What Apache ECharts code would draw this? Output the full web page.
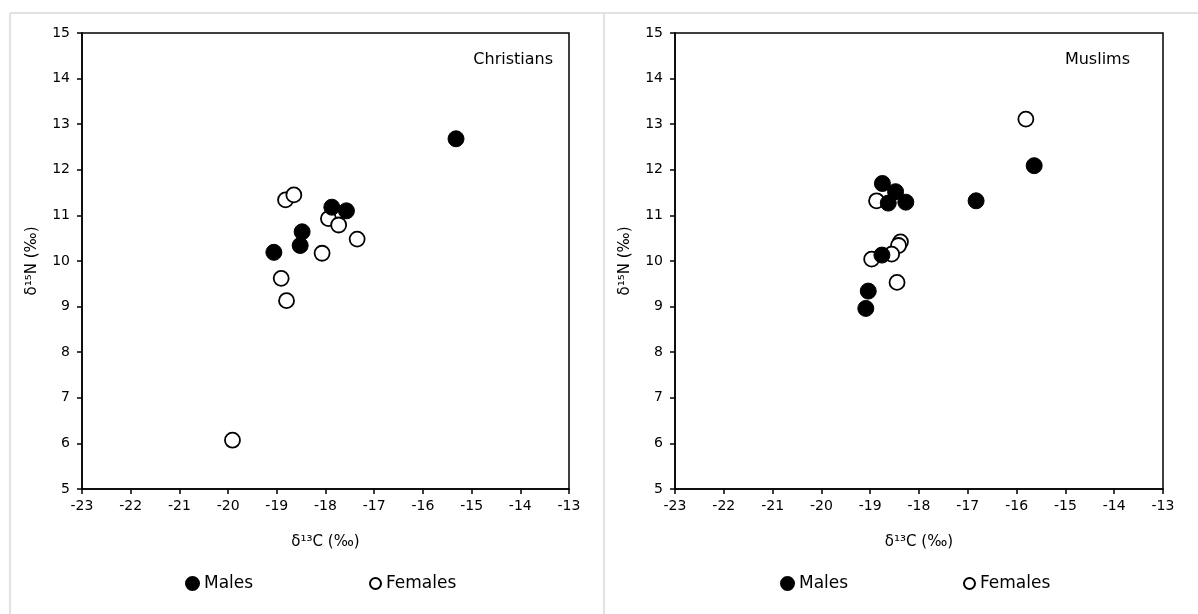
<!DOCTYPE html>
<html>
<head>
<meta charset="utf-8">
<script src="https://cdn.jsdelivr.net/npm/echarts@6/dist/echarts.min.js"></script>
<style>
  html, body { margin: 0; padding: 0; background: #fff; }
  #main { width: 1198px; height: 614px; }
</style>
</head>
<body>
<div id="main"></div>
<script>
// delta13C / delta15N values
var christianMalesC = [-15.32, -17.87, -17.57, -18.48, -18.52, -19.06];
var christianMalesN = [12.68, 11.18, 11.10, 10.64, 10.34, 10.19];
var christianFemalesC = [-18.82, -18.65, -17.94, -17.73, -17.35, -18.07, -18.91, -18.80, -19.91];
var christianFemalesN = [11.34, 11.45, 10.93, 10.79, 10.48, 10.17, 9.62, 9.13, 6.07];

var muslimMalesC = [-15.64, -16.83, -18.75, -18.48, -18.63, -18.27, -18.76, -19.04, -19.09];
var muslimMalesN = [12.09, 11.32, 11.70, 11.52, 11.27, 11.29, 10.13, 9.34, 8.96];
var muslimFemalesC = [-15.81, -18.87, -18.38, -18.42, -18.56, -18.97, -18.45];
var muslimFemalesN = [13.11, 11.32, 10.42, 10.34, 10.15, 10.04, 9.53];

var xTicks = [-23, -22, -21, -20, -19, -18, -17, -16, -15, -14, -13];
var yTicks = [5, 6, 7, 8, 9, 10, 11, 12, 13, 14, 15];

function pairs(xs, ys) {
    var out = [];
    for (var i = 0; i < xs.length; i++) out.push([xs[i], ys[i]]);
    return out;
}

var font = 'DejaVu Sans';

function xAxisFor(idx) {
    return {
        gridIndex: idx,
        type: 'value',
        min: xTicks[0],
        max: xTicks[xTicks.length - 1],
        interval: 1,
        name: 'δ¹³C (‰)',
        nameLocation: 'middle',
        nameGap: 46,
        nameTextStyle: { color: '#000', fontSize: 15, fontFamily: font },
        axisLine: { lineStyle: { color: '#000', width: 1.5 } },
        axisTick: { show: true, length: 5, lineStyle: { color: '#000', width: 1.5 } },
        axisLabel: { color: '#000', fontSize: 14, fontFamily: font, margin: 10 },
        splitLine: { show: false }
    };
}

function yAxisFor(idx) {
    return {
        gridIndex: idx,
        type: 'value',
        min: yTicks[0],
        max: yTicks[yTicks.length - 1],
        interval: 1,
        name: 'δ¹⁵N (‰)',
        nameLocation: 'middle',
        nameGap: 42,
        nameTextStyle: { color: '#000', fontSize: 15, fontFamily: font },
        axisLine: { lineStyle: { color: '#000', width: 1.5 } },
        axisTick: { show: true, length: 5, lineStyle: { color: '#000', width: 1.5 } },
        axisLabel: { color: '#000', fontSize: 14, fontFamily: font, margin: 12 },
        splitLine: { show: false }
    };
}

var filled = { color: '#000', borderColor: '#000', borderWidth: 1, opacity: 1 };
var hollow = { color: '#fff', borderColor: '#000', borderWidth: 1.8, opacity: 1 };

var myChart = echarts.init(document.getElementById('main'));

var option = {
    animation: false,
    backgroundColor: '#fff',
    title: [
        { text: 'Christians', right: 640, top: 47,
          textStyle: { fontSize: 16, fontWeight: 'normal', color: '#000', fontFamily: font } },
        { text: 'Muslims', right: 63, top: 47,
          textStyle: { fontSize: 16, fontWeight: 'normal', color: '#000', fontFamily: font } }
    ],
    grid: [
        { left: 82, top: 33, width: 487, height: 456, show: true, borderColor: '#000', borderWidth: 1.5, backgroundColor: 'transparent' },
        { left: 675, top: 33, width: 488, height: 456, show: true, borderColor: '#000', borderWidth: 1.5, backgroundColor: 'transparent' }
    ],
    xAxis: [xAxisFor(0), xAxisFor(1)],
    yAxis: [yAxisFor(0), yAxisFor(1)],
    legend: [
        { data: ['Males'], left: 180, top: 570, icon: 'circle', itemWidth: 13, itemHeight: 13,
          textStyle: { fontSize: 17, color: '#000', fontFamily: font } },
        { data: ['Females'], left: 364, top: 570, icon: 'circle', itemWidth: 11, itemHeight: 11,
          textStyle: { fontSize: 17, color: '#000', fontFamily: font } },
        { data: ['Males'], left: 775, top: 570, icon: 'circle', itemWidth: 13, itemHeight: 13,
          textStyle: { fontSize: 17, color: '#000', fontFamily: font } },
        { data: ['Females'], left: 958, top: 570, icon: 'circle', itemWidth: 11, itemHeight: 11,
          textStyle: { fontSize: 17, color: '#000', fontFamily: font } }
    ],
    graphic: [
        { type: 'line', shape: { x1: 10, y1: 13, x2: 1198, y2: 13 }, style: { stroke: '#d9d9d9', lineWidth: 1.5 } },
        { type: 'line', shape: { x1: 10, y1: 13, x2: 10, y2: 614 }, style: { stroke: '#d9d9d9', lineWidth: 1.5 } },
        { type: 'line', shape: { x1: 604, y1: 13, x2: 604, y2: 614 }, style: { stroke: '#d9d9d9', lineWidth: 1.5 } }
    ],
    series: [
        { name: 'Females', type: 'scatter', xAxisIndex: 0, yAxisIndex: 0, symbol: 'circle', symbolSize: 15,
          itemStyle: hollow, data: pairs(christianFemalesC, christianFemalesN) },
        { name: 'Males', type: 'scatter', xAxisIndex: 0, yAxisIndex: 0, symbol: 'circle', symbolSize: 16,
          itemStyle: filled, data: pairs(christianMalesC, christianMalesN) },
        { name: 'Females', type: 'scatter', xAxisIndex: 1, yAxisIndex: 1, symbol: 'circle', symbolSize: 15,
          itemStyle: hollow, data: pairs(muslimFemalesC, muslimFemalesN) },
        { name: 'Males', type: 'scatter', xAxisIndex: 1, yAxisIndex: 1, symbol: 'circle', symbolSize: 16,
          itemStyle: filled, data: pairs(muslimMalesC, muslimMalesN) }
    ]
};

if (option && typeof option === "object") {
    myChart.setOption(option, true);
}
</script>
</body>
</html>
